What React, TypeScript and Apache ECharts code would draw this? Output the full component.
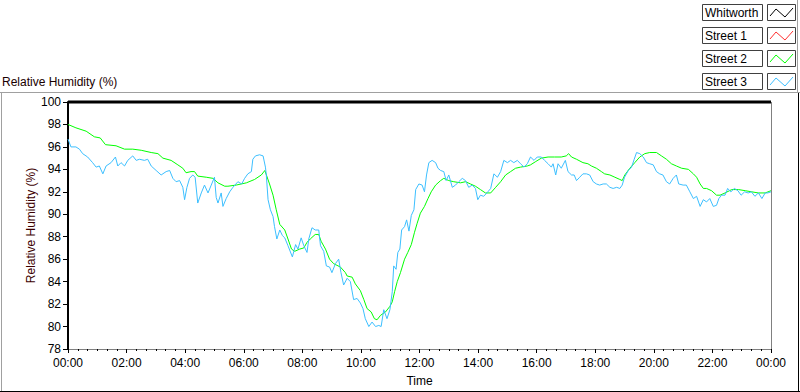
import React, { useEffect, useRef } from "react";
import * as echarts from "echarts";

// ---- Data (time in hours since 00:00, values in % RH) ----
const yTicks = [78, 80, 82, 84, 86, 88, 90, 92, 94, 96, 98, 100];
const xTickHours = [0, 2, 4, 6, 8, 10, 12, 14, 16, 18, 20, 22, 24];

const seriesNames = ["Whitworth", "Street 1", "Street 2", "Street 3"];
const seriesColors = ["#000000", "#ff3030", "#00ff00", "#3cbfff"];

const whitworthTimes = [0, 24];
const whitworthValues = [100, 100];

const street1Times: number[] = [];
const street1Values: number[] = [];

const street2Times = [
  0.0, 0.27, 0.62, 0.9, 1.1, 1.28, 1.64, 1.93, 2.21, 2.5, 2.84, 3.07, 3.24, 3.52, 3.75, 3.92,
  4.03, 4.2, 4.32, 4.43, 4.72, 4.95, 5.12, 5.35, 5.46, 5.74, 6.09, 6.37, 6.6, 6.72, 6.88, 7.0,
  7.11, 7.23, 7.4, 7.51, 7.63, 7.74, 7.91, 8.05, 8.16, 8.27, 8.44, 8.56, 8.64, 8.79, 8.93, 9.07,
  9.3, 9.47, 9.53, 9.7, 9.81, 9.98, 10.1, 10.21, 10.35, 10.46, 10.55, 10.67, 10.84, 10.99, 11.07,
  11.15, 11.24, 11.35, 11.49, 11.6, 11.72, 11.83, 11.92, 12.03, 12.17, 12.29, 12.4, 12.55, 12.72,
  12.83, 13.0, 13.17, 13.4, 13.57, 13.74, 13.91, 14.08, 14.25, 14.43, 14.6, 14.77, 14.94, 15.11,
  15.28, 15.45, 15.68, 15.79, 15.97, 16.16, 16.39, 16.61, 16.84, 17.01, 17.09, 17.19, 17.36, 17.58,
  17.75, 17.87, 18.04, 18.21, 18.32, 18.5, 18.67, 18.84, 18.92, 19.01, 19.18, 19.35, 19.52, 19.69,
  19.86, 20.09, 20.26, 20.43, 20.6, 20.77, 20.95, 21.18, 21.35, 21.46, 21.58, 21.69, 21.8, 21.97,
  22.14, 22.26, 22.43, 22.66, 22.89, 23.12, 23.34, 23.57, 23.8, 24.0,
];
const street2Values = [
  98.0, 97.7, 97.4, 96.9, 96.8, 96.2, 96.1, 95.8, 95.8, 95.7, 95.5, 95.4, 95.0, 94.8, 94.4, 94.1,
  93.7, 93.8, 93.8, 93.4, 93.3, 93.2, 92.8, 92.5, 92.5, 92.6, 92.8, 93.1, 93.5, 93.9, 92.7, 91.7,
  90.4, 89.1, 88.6, 87.8, 86.9, 86.7, 86.9, 87.0, 87.5, 87.8, 88.2, 88.2, 87.6, 86.9, 86.0, 85.6,
  85.3, 84.8, 84.5, 84.4, 83.8, 83.2, 82.4, 81.6, 81.3, 80.7, 80.6, 81.0, 81.3, 81.8, 82.2,
  83.1, 84.0, 84.8, 86.0, 86.6, 87.3, 88.4, 89.2, 90.1, 90.7, 91.4, 92.0, 92.6, 93.0,
  93.2, 93.0, 92.9, 92.8, 92.9, 92.7, 92.5, 92.2, 91.9, 91.9, 92.4, 92.9, 93.5, 93.8,
  94.1, 94.2, 94.3, 94.4, 94.7, 95.0, 95.1, 95.1, 95.1, 95.2, 95.4, 95.1, 94.9, 94.6,
  94.5, 94.3, 94.1, 93.8, 93.6, 93.5, 93.3, 93.1, 93.0, 93.5, 94.1, 94.6, 95.1, 95.4,
  95.5, 95.5, 95.2, 94.9, 94.5, 94.3, 94.1, 94.0, 93.6, 93.3, 92.7, 92.3, 92.3, 92.1,
  91.7, 91.7, 91.9, 92.2, 92.2, 92.1, 92.0, 91.9, 91.9, 92.1,
];

const street3Times = [
  0.0, 0.1, 0.27, 0.39, 0.5, 0.67, 0.84, 0.96, 1.07, 1.19, 1.3, 1.47, 1.62, 1.7, 1.81, 1.93,
  2.04, 2.21, 2.33, 2.44, 2.61, 2.72, 2.84, 3.01, 3.18, 3.35, 3.47, 3.58, 3.69, 3.81, 3.92, 3.98,
  4.06, 4.15, 4.26, 4.34, 4.43, 4.55, 4.66, 4.78, 4.89, 5.0, 5.06, 5.12, 5.23, 5.29, 5.4, 5.52,
  5.63, 5.8, 5.93, 6.03, 6.14, 6.26, 6.31, 6.4, 6.54, 6.66, 6.74, 6.77, 6.83, 6.91, 7.0, 7.05,
  7.13, 7.23, 7.32, 7.4, 7.51, 7.66, 7.77, 7.85, 7.96, 8.05, 8.16, 8.22, 8.33, 8.44, 8.56, 8.62,
  8.73, 8.82, 8.93, 9.01, 9.13, 9.24, 9.32, 9.41, 9.53, 9.64, 9.75, 9.87, 9.98, 10.07, 10.15,
  10.27, 10.38, 10.5, 10.61, 10.69, 10.78, 10.89, 10.99, 11.07, 11.12, 11.2, 11.26, 11.33, 11.39,
  11.49, 11.56, 11.64, 11.72, 11.81, 11.87, 11.98, 12.09, 12.17, 12.24, 12.32, 12.43, 12.55, 12.63,
  12.72, 12.83, 12.91, 13.0, 13.12, 13.23, 13.34, 13.46, 13.57, 13.68, 13.8, 13.91, 13.99, 14.08,
  14.19, 14.3, 14.43, 14.54, 14.66, 14.77, 14.88, 15.0, 15.11, 15.22, 15.34, 15.45, 15.57, 15.68,
  15.79, 15.91, 16.02, 16.16, 16.27, 16.39, 16.5, 16.56, 16.65, 16.73, 16.84, 16.98, 17.07, 17.19,
  17.28, 17.36, 17.47, 17.58, 17.7, 17.81, 17.93, 18.04, 18.15, 18.27, 18.38, 18.5, 18.61, 18.73,
  18.84, 18.92, 19.0, 19.13, 19.24, 19.33, 19.41, 19.52, 19.64, 19.75, 19.86, 19.98, 20.09, 20.2,
  20.31, 20.43, 20.54, 20.66, 20.77, 20.85, 21.0, 21.11, 21.23, 21.35, 21.46, 21.58, 21.69, 21.8,
  21.91, 22.03, 22.14, 22.22, 22.31, 22.43, 22.52, 22.63, 22.75, 22.87, 22.98, 23.1, 23.22, 23.33,
  23.45, 23.57, 23.69, 23.8, 23.89, 24.0,
];
const street3Values = [
  96.7, 96.0, 96.0, 95.8, 95.4, 95.1, 94.6, 94.2, 94.3, 93.6, 94.3, 94.6, 95.1, 94.3, 94.6, 94.3,
  94.8, 95.2, 94.8, 94.9, 94.8, 94.9, 94.3, 93.9, 93.5, 93.8, 93.9, 93.2, 92.9, 93.0, 92.4, 91.3,
  92.4, 93.2, 93.5, 93.3, 91.0, 91.9, 92.6, 91.9, 92.6, 93.3, 91.5, 91.0, 91.9, 90.7, 91.4, 92.0,
  92.4, 92.9, 92.7, 93.2, 93.6, 93.8, 94.9, 95.2, 95.3, 95.2, 94.2, 93.5, 91.3, 90.4, 89.8, 88.9,
  87.8, 88.6, 88.1, 87.9, 87.2, 86.2, 87.3, 86.9, 87.9, 87.2, 86.6, 87.8, 88.8, 88.6, 88.6, 87.2,
  86.7, 85.4, 85.3, 84.8, 85.6, 86.0, 84.8, 83.7, 84.3, 84.0, 82.4, 82.5, 82.1, 81.6, 80.7,
  80.0, 80.4, 80.0, 80.1, 80.0, 81.5, 80.7, 81.5, 83.1, 85.4, 85.1, 86.6, 86.9, 88.6,
  88.9, 89.5, 88.5, 89.9, 90.4, 92.2, 92.7, 92.6, 92.0, 93.5, 94.6, 94.8, 94.6, 94.1,
  93.9, 93.8, 93.0, 93.5, 92.4, 92.6, 92.9, 93.2, 93.0, 92.4, 92.6, 92.3, 91.3, 91.7,
  91.6, 91.9, 92.3, 93.6, 93.3, 93.8, 94.8, 94.6, 94.8, 94.6, 94.8, 94.5, 94.2, 94.5,
  95.1, 94.8, 95.1, 95.1, 94.8, 94.5, 94.2, 94.5, 93.5, 94.5, 94.1, 94.8, 93.8, 93.5,
  93.5, 93.0, 93.3, 93.6, 93.6, 93.5, 92.9, 92.7, 92.6, 92.7, 92.7, 92.4, 92.3, 92.4,
  92.3, 92.6, 93.3, 93.9, 94.2, 94.9, 95.5, 95.4, 95.1, 94.6, 94.5, 94.4, 93.8, 93.6,
  93.5, 92.9, 92.7, 93.2, 93.5, 92.7, 92.6, 92.6, 92.0, 91.4, 91.6, 90.7, 91.3, 91.1,
  91.4, 90.7, 90.8, 91.4, 91.7, 91.7, 92.3, 92.0, 92.3, 92.1, 91.7, 92.0, 91.9, 92.0,
  91.6, 91.9, 91.4, 91.9, 91.9, 92.0,
];

const FONT = "'Liberation Sans', Arial, sans-serif";

function zip(t: number[], v: number[]) {
  return t.map((x, i) => [x, v[i]]);
}

function fmtHour(v: number) {
  const h = Math.round(v) % 24;
  return (h < 10 ? "0" : "") + h + ":00";
}

export default function App() {
  const ref = useRef<HTMLDivElement>(null);
  useEffect(() => {
    if (!ref.current) return;
    const chart = echarts.init(ref.current, undefined, { renderer: "svg" });

    const legendGraphics: any[] = [];
    seriesNames.forEach((name, i) => {
      const y0 = 4 + i * 23;
      legendGraphics.push({
        type: "rect",
        shape: { x: 702.5, y: y0 + 0.5, width: 60, height: 16 },
        style: { fill: "#fff", stroke: "#404040", lineWidth: 1 },
      });
      legendGraphics.push({
        type: "text",
        x: 705,
        y: y0 + 9,
        style: { text: name, fill: "#000", font: `12px ${FONT}`, verticalAlign: "middle" },
      });
      legendGraphics.push({
        type: "rect",
        shape: { x: 767.5, y: y0 + 0.5, width: 28, height: 16 },
        style: { fill: "#fff", stroke: "#404040", lineWidth: 1 },
      });
      legendGraphics.push({
        type: "polyline",
        shape: {
          points: [
            [770, y0 + 12],
            [776, y0 + 5],
            [785, y0 + 13],
            [793, y0 + 4],
          ],
        },
        style: { stroke: seriesColors[i], lineWidth: 1, fill: "none" },
      });
    });

    const frame: any[] = [
      { type: "line", shape: { x1: 0, y1: 92.5, x2: 800, y2: 92.5 }, style: { stroke: "#a0a0a0", lineWidth: 1 } },
      { type: "line", shape: { x1: 1.5, y1: 93, x2: 1.5, y2: 392 }, style: { stroke: "#a0a0a0", lineWidth: 1 } },
      { type: "line", shape: { x1: 0, y1: 391.5, x2: 800, y2: 391.5 }, style: { stroke: "#000", lineWidth: 1 } },
      { type: "line", shape: { x1: 798.5, y1: 93, x2: 798.5, y2: 392 }, style: { stroke: "#000", lineWidth: 1 } },
      { type: "line", shape: { x1: 797.5, y1: 0, x2: 797.5, y2: 93 }, style: { stroke: "#a0a0a0", lineWidth: 1 } },
      { type: "line", shape: { x1: 771.5, y1: 102, x2: 771.5, y2: 353 }, style: { stroke: "#808080", lineWidth: 1 } },
      {
        type: "text",
        x: 2,
        y: 82,
        style: { text: "Relative Humidity (%)", fill: "#1a0000", font: `12px ${FONT}`, verticalAlign: "middle" },
      },
    ];

    const mkSeries = (i: number, t: number[], v: number[], width: number, clip = true) => ({
      name: seriesNames[i],
      type: "line",
      data: zip(t, v),
      showSymbol: false,
      symbol: "none",
      clip,
      lineStyle: { color: seriesColors[i], width },
      itemStyle: { color: seriesColors[i] },
      z: i === 0 ? 5 : 3,
    });

    chart.setOption({
      animation: false,
      backgroundColor: "#ffffff",
      textStyle: { fontFamily: FONT },
      grid: { left: 68, right: 29, top: 102, bottom: 39, containLabel: false },
      xAxis: {
        type: "value",
        min: xTickHours[0],
        max: xTickHours[xTickHours.length - 1],
        interval: 2,
        name: "Time",
        nameLocation: "middle",
        nameGap: 26,
        nameMoveOverlap: false,
        nameTextStyle: { color: "#000", fontSize: 12, fontFamily: FONT },
        axisLine: { show: true, onZero: false, lineStyle: { color: "#808080", width: 1 } },
        axisTick: { show: true, length: 4, lineStyle: { color: "#000" } },
        minorTick: { show: true, splitNumber: 6, length: 2, lineStyle: { color: "#000" } },
        axisLabel: { color: "#000", fontSize: 12, fontFamily: FONT, margin: 8, formatter: fmtHour, showMaxLabel: true, showMinLabel: true },
        splitLine: { show: false },
      },
      yAxis: {
        type: "value",
        min: yTicks[0],
        max: yTicks[yTicks.length - 1],
        interval: 2,
        name: "Relative Humidity (%)",
        nameLocation: "middle",
        nameGap: 31,
        nameMoveOverlap: false,
        nameTextStyle: { color: "#3c0000", fontSize: 12, fontFamily: FONT },
        axisLine: { show: true, onZero: false, lineStyle: { color: "#000", width: 2 } },
        axisTick: { show: true, length: 5, lineStyle: { color: "#000" } },
        axisLabel: { color: "#000", fontSize: 12, fontFamily: FONT, margin: 7 },
        splitLine: { show: false },
      },
      series: [
        mkSeries(0, whitworthTimes, whitworthValues, 3, false),
        mkSeries(1, street1Times, street1Values, 1),
        mkSeries(2, street2Times, street2Values, 1),
        mkSeries(3, street3Times, street3Values, 1),
      ],
      graphic: [...frame, ...legendGraphics],
    });
    return () => chart.dispose();
  }, []);
  return <div ref={ref} style={{ position: "fixed", left: 0, top: 0, width: 800, height: 392 }} />;
}
